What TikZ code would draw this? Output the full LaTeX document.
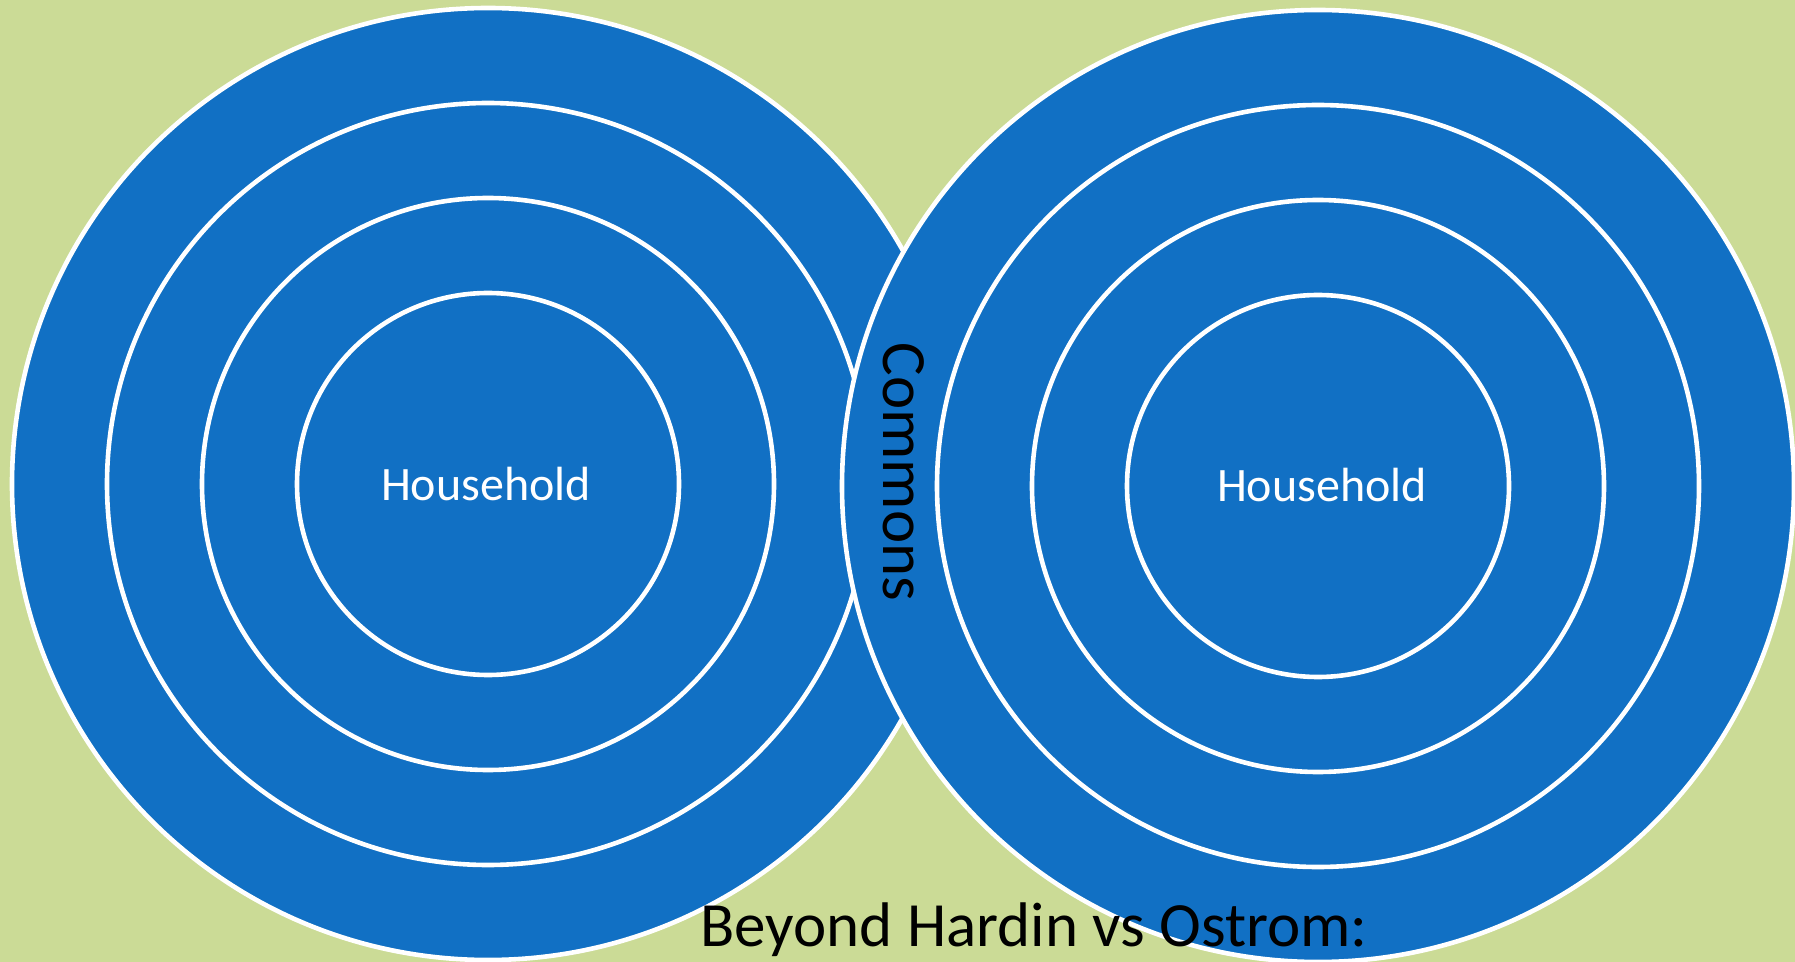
\documentclass[tikz,border=0pt]{standalone}
\usepackage{fontspec}
\setmainfont{Carlito}
\usetikzlibrary{positioning}
\definecolor{bgGreen}{RGB}{203,219,150}
\definecolor{ringBlue}{RGB}{17,112,196}
\tikzset{
  ring/.style={draw=white,line width=2.3pt,fill=ringBlue},
  houselabel/.style={text=white,font=\fontsize{24}{28}\selectfont,inner sep=0pt}
}
\begin{document}
\begin{tikzpicture}[x=0.5pt,y=-0.5pt]
\clip (0,0) rectangle (1795,962);
\fill[bgGreen] (0,0) rectangle (1795,962);
% left rings
\foreach \r in {476,381,286,191}
  \draw[ring] (488,484) circle[radius=\r];
% right rings
\foreach \r in {476,381,286,191}
  \draw[ring] (1318,486) circle[radius=\r];
\node[houselabel] (houseL) at (486,484) {Household};
\node[houselabel] (houseR) at (1322,485) {Household};
\node[rotate=-90,inner sep=0pt,font=\fontsize{31.5}{38}\selectfont] (commons) at (904,472) {Commons};
\node[anchor=base,inner sep=0pt,font=\fontsize{31.5}{38}\selectfont] (title) at (1034,946) {Beyond Hardin vs Ostrom:};
\end{tikzpicture}
\end{document}
